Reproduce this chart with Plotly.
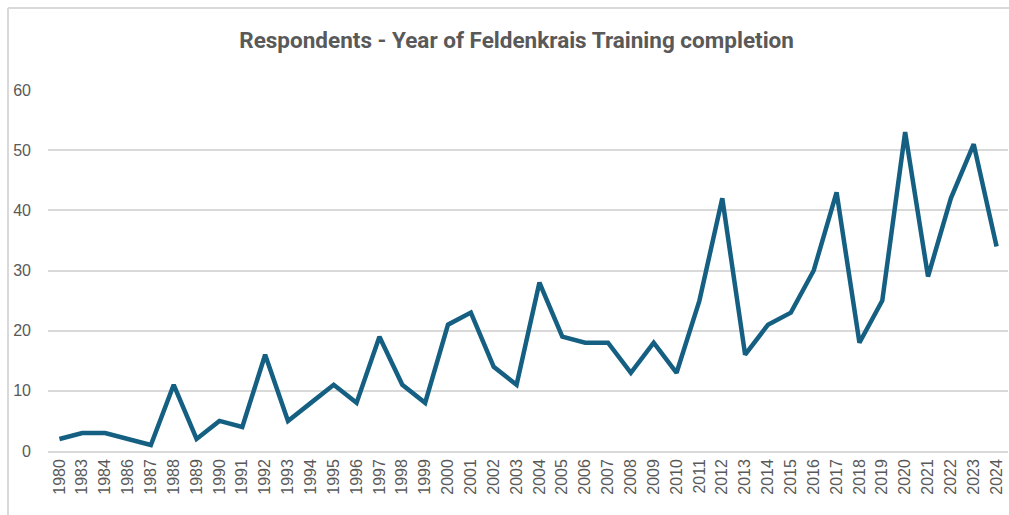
import plotly.graph_objects as go

years = ["1980", "1983", "1984", "1986", "1987", "1988", "1989", "1990", "1991", "1992",
         "1993", "1994", "1995", "1996", "1997", "1998", "1999", "2000", "2001", "2002",
         "2003", "2004", "2005", "2006", "2007", "2008", "2009", "2010", "2011", "2012",
         "2013", "2014", "2015", "2016", "2017", "2018", "2019", "2020", "2021", "2022",
         "2023", "2024"]
respondents = [2, 3, 3, 2, 1, 11, 2, 5, 4, 16,
               5, 8, 11, 8, 19, 11, 8, 21, 23, 14,
               11, 28, 19, 18, 18, 13, 18, 13, 25, 42,
               16, 21, 23, 30, 43, 18, 25, 53, 29, 42,
               51, 34]
y_ticks = [0, 10, 20, 30, 40, 50, 60]

fig = go.Figure()
fig.add_trace(go.Scatter(
    x=years, y=respondents, mode="lines",
    line=dict(color="#156082", width=4.5),
    hoverinfo="x+y",
))

W, H = 1009, 515
ml, mr, mt, mb = 48, 1, 90, 64
pw = W - ml - mr
ph = H - mt - mb

fig.update_layout(
    width=W, height=H,
    margin=dict(l=ml, r=mr, t=mt, b=mb, autoexpand=False),
    paper_bgcolor="white", plot_bgcolor="white",
    showlegend=False,
    title=dict(
        text="<b>Respondents - Year of Feldenkrais Training completion</b>",
        x=0.512, xanchor="center", y=1 - 40 / H, yanchor="middle",
        font=dict(family="Liberation Sans Narrow, Roboto, sans-serif", size=22.5, color="#595959"),
    ),
    xaxis=dict(
        type="category", range=[-0.5, len(years) - 0.5],
        tickangle=-90, tickfont=dict(family="Liberation Sans, Arial", size=16, color="#595959"),
        showgrid=False, showline=True, linecolor="#d9d9d9", linewidth=1.5,
        ticks="", zeroline=False, automargin=False,
    ),
    yaxis=dict(
        range=[0, 60], tickvals=y_ticks,
        tickfont=dict(family="Liberation Sans, Arial", size=16, color="#595959"),
        showgrid=True, gridcolor="#d9d9d9", gridwidth=1.5,
        zeroline=False, showline=False, ticks="", ticklabelstandoff=16,
        automargin=False,
    ),
    shapes=[
        dict(type="line", xref="paper", yref="paper",
             x0=(8 - ml) / pw, x1=(8 - ml) / pw,
             y0=-0.3, y1=(H - mb - 8) / ph,
             line=dict(color="#d9d9d9", width=2)),
        dict(type="line", xref="paper", yref="paper",
             x0=(8 - ml) / pw, x1=1.01,
             y0=(H - mb - 8) / ph, y1=(H - mb - 8) / ph,
             line=dict(color="#d9d9d9", width=2)),
    ],
)

fig.write_html(
    "out.html",
    config={"displayModeBar": False},
    post_script="document.body.style.margin='0';document.body.style.overflow='hidden';",
)
